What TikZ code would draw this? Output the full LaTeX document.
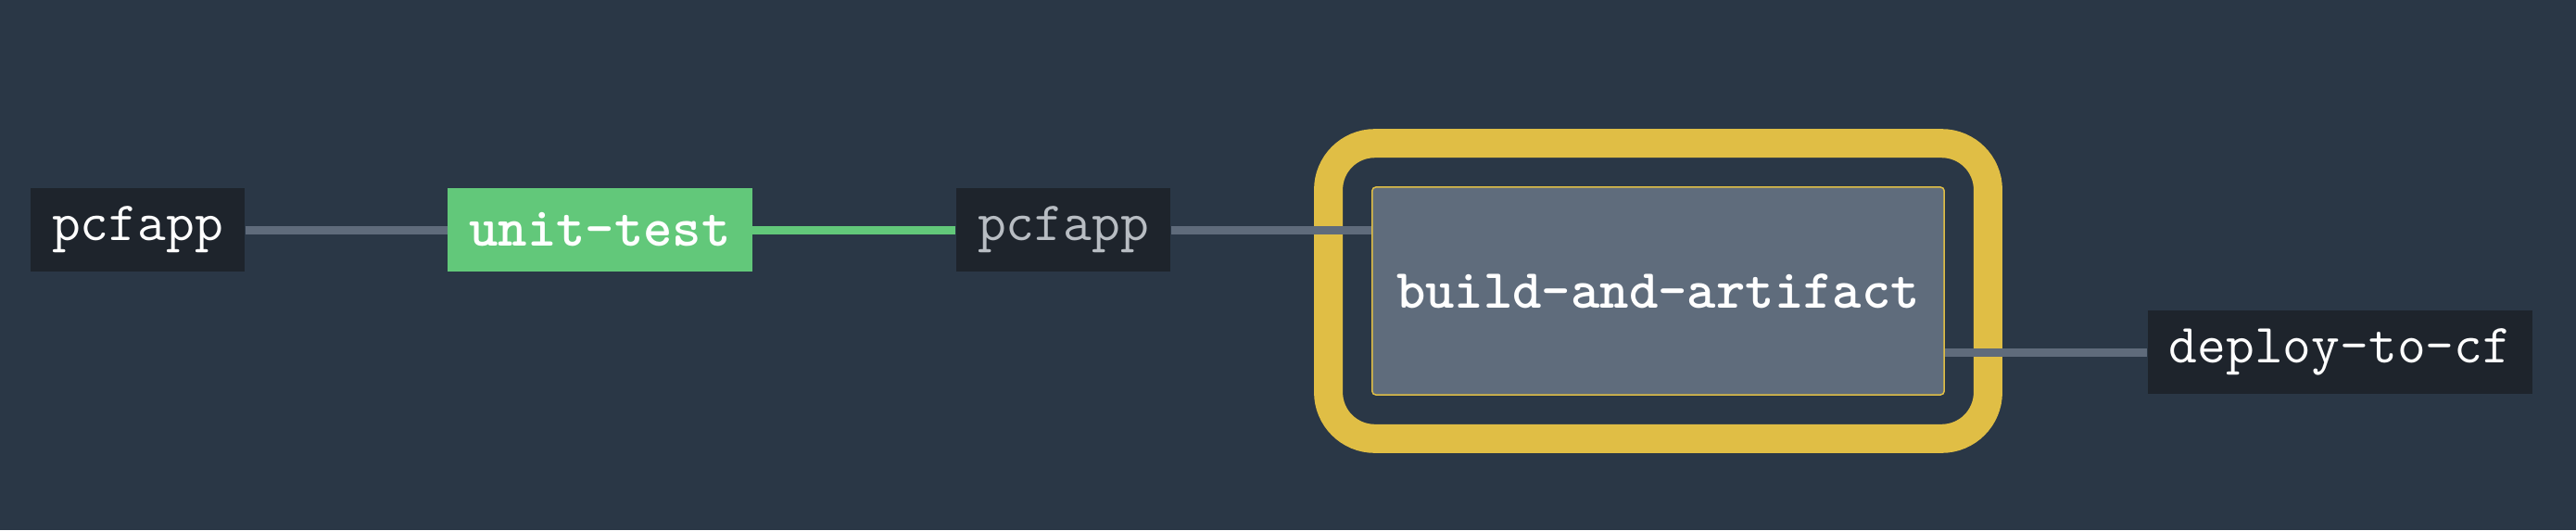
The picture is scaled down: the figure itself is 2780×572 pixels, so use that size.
\documentclass[tikz,border=0pt]{standalone}
\usepackage{fontspec}
\definecolor{bg}{HTML}{2A3746}
\definecolor{boxdark}{HTML}{1E242C}
\definecolor{linkgrey}{HTML}{5F6B7B}
\definecolor{passgreen}{HTML}{62C87A}
\definecolor{runyellow}{HTML}{E0BE45}
\definecolor{buildgrey}{HTML}{5F6C7C}
\definecolor{dimtext}{HTML}{B8BDC3}
\tikzset{
  job/.style={fill=boxdark, text=white, minimum height=0.89cm, inner xsep=0.23cm,
    inner ysep=0pt, font=\ttfamily\fontsize{17pt}{19pt}\selectfont},
  boldjob/.style={job, font=\ttfamily\bfseries\fontsize{17pt}{19pt}\selectfont},
  link/.style={draw=linkgrey, line width=0.09cm},
  ring/.style={draw=runyellow, line width=0.31cm, rounded corners=0.5cm},
}

\begin{document}
\begin{tikzpicture}[x=0.01cm, y=-0.01cm]
  \useasboundingbox[fill=bg] (0,0) rectangle (2780,572);
  % The resources and the first job.
  \node[job] (pcfapp) at (148.5,248) {pcfapp};
  \node[boldjob, fill=passgreen] (unittest) at (647.5,248) {unit-test};
  \node[job, text=dimtext] (pcfappout) at (1147.5,248) {pcfapp};
  % The running job with its ring.
  \node[boldjob, fill=buildgrey, draw=runyellow, line width=0.015cm, rounded corners=0.04cm,
    minimum width=6.17cm, minimum height=2.24cm] (build) at (1789.5,314) {build-and-artifact};
  \draw[ring] ([shift={(-46.5,-46.5)}]build.north west) rectangle ([shift={(46.5,46.5)}]build.south east);
  \node[job] (deploy) at (2525.5,380) {deploy-to-cf};
  % The links.
  \draw[link] (pcfapp.east) -- (unittest.west);
  \draw[link, draw=passgreen] (unittest.east) -- (pcfappout.west);
  \draw[link] (pcfappout.east) -- (pcfappout.east -| build.west);
  \draw[link] (build.east |- deploy.west) -- (deploy.west);
\end{tikzpicture}
\end{document}
